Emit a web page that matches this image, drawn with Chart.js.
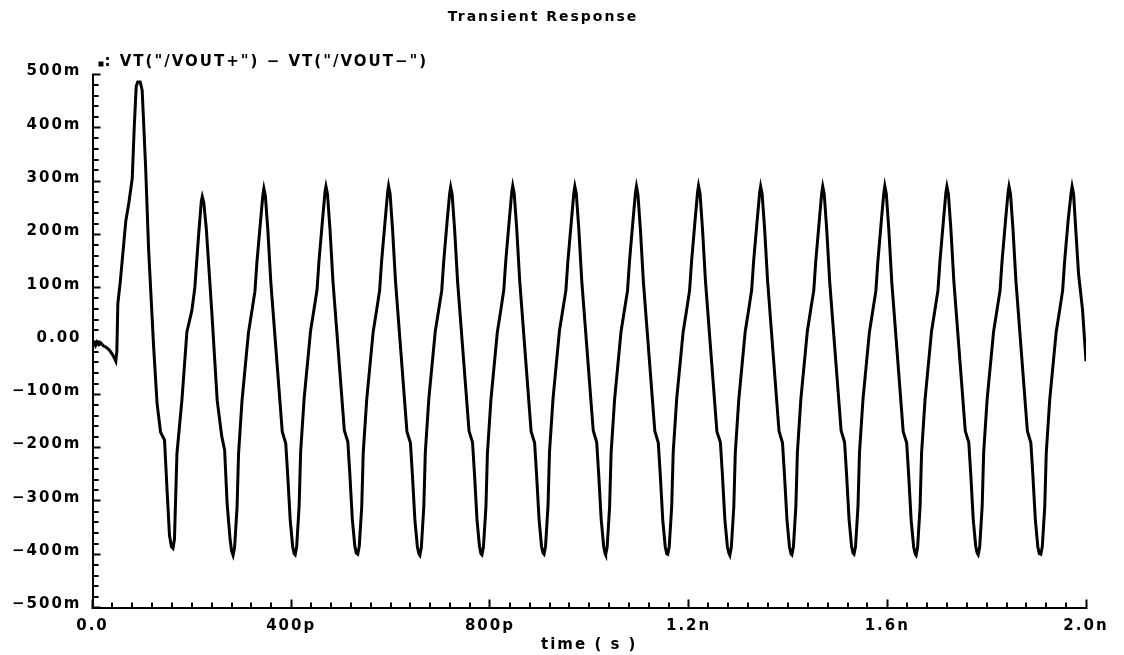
<!DOCTYPE html>
<html>
<head>
<meta charset="utf-8">
<title>Transient Response</title>
<script src="https://cdn.jsdelivr.net/npm/chart.js@4.4.0/dist/chart.umd.min.js"></script>
<style>
    html, body { margin: 0; padding: 0; background: #fff; }
    canvas { display: block; }
</style>
</head>
<body>
<canvas id="transient-chart" width="1124" height="655"></canvas>
<script>
// Differential output VT("/VOUT+") - VT("/VOUT-"), time in ps, voltage in mV
const timePs = [
    // start-up and first overshoot
    0, 3, 6, 9, 13, 17, 22, 28, 34, 40, 45, 47, 49, 51, 56, 67, 73, 80, 84, 88, 91, 96, 100, 107, 113,
    123, 130, 137, 145, 150, 155, 159, 162, 165, 170, 180, 190, 200, 206, 213, 219, 221, 224, 229, 240,
    251, 260, 266, 271, 277, 280,
    // steady oscillation
    283, 286, 291, 294, 301, 314, 321, 327, 331, 338, 343, 345, 348, 353, 359, 382, 389, 393, 398, 403, 406,
    408, 411, 416, 419, 426, 439, 446, 452, 456, 463, 468, 470, 473, 478, 484, 507, 514, 518, 523, 528, 531,
    534, 537, 542, 545, 552, 565, 572, 578, 582, 589, 594, 596, 599, 604, 610, 633, 640, 644, 649, 654, 657,
    659, 662, 667, 670, 677, 690, 697, 703, 707, 714, 719, 721, 724, 729, 735, 758, 765, 769, 774, 779, 782,
    784, 787, 792, 795, 802, 815, 822, 828, 832, 839, 844, 846, 849, 854, 860, 883, 890, 894, 899, 904, 907,
    909, 912, 917, 920, 927, 940, 947, 953, 957, 964, 969, 971, 974, 979, 985, 1008, 1015, 1019, 1024, 1029, 1032,
    1033, 1036, 1041, 1044, 1051, 1064, 1071, 1077, 1081, 1088, 1093, 1095, 1098, 1103, 1109, 1132, 1139, 1143, 1148, 1153, 1156,
    1158, 1161, 1166, 1169, 1176, 1189, 1196, 1202, 1206, 1213, 1218, 1220, 1223, 1228, 1234, 1257, 1264, 1268, 1273, 1278, 1281,
    1283, 1286, 1291, 1294, 1301, 1314, 1321, 1327, 1331, 1338, 1343, 1345, 1348, 1353, 1359, 1382, 1389, 1393, 1398, 1403, 1406,
    1408, 1411, 1416, 1419, 1426, 1439, 1446, 1452, 1456, 1463, 1468, 1470, 1473, 1478, 1484, 1507, 1514, 1518, 1523, 1528, 1531,
    1533, 1536, 1541, 1544, 1551, 1564, 1571, 1577, 1581, 1588, 1593, 1595, 1598, 1603, 1609, 1632, 1639, 1643, 1648, 1653, 1656,
    1658, 1661, 1666, 1669, 1676, 1689, 1696, 1702, 1706, 1713, 1718, 1720, 1723, 1728, 1734, 1757, 1764, 1768, 1773, 1778, 1781,
    1783, 1786, 1791, 1794, 1801, 1814, 1821, 1827, 1831, 1838, 1843, 1845, 1848, 1853, 1859, 1882, 1889, 1893, 1898, 1903, 1906,
    1909, 1912, 1917, 1920, 1927, 1940, 1947, 1953, 1957, 1964, 1970, 1972, 1975, 1980, 1985, 1993, 2000
];

const voutDiffMv = [
    0, -4, -9, -2, -7, -4, -9, -12, -17, -25, -34, -38, -20, 70, 112, 225, 258, 305, 400, 478, 486, 486, 470, 325, 171,
    -10, -117, -171, -186, -278, -365, -386, -389, -372, -211, -111, 17, 57, 100, 191, 262, 271, 260, 212, 57,
    -111, -178, -205, -305, -372, -394,
    -402, -388, -312, -212, -112, 16, 57, 93, 148, 222, 274, 286, 272, 208, 110, -170, -192, -252, -336, -386, -399,
    -401, -386, -309, -208, -108, 19, 60, 96, 151, 227, 279, 290, 276, 211, 113, -168, -189, -249, -334, -384, -398,
    -400, -385, -311, -210, -110, 17, 58, 95, 150, 225, 278, 291, 277, 210, 112, -170, -191, -251, -336, -386, -399,
    -402, -387, -310, -209, -109, 18, 59, 94, 149, 226, 277, 289, 275, 209, 111, -169, -190, -250, -335, -385, -399,
    -401, -386, -312, -211, -111, 17, 58, 96, 151, 227, 279, 291, 276, 211, 113, -170, -191, -251, -335, -386, -398,
    -400, -385, -309, -208, -109, 19, 60, 95, 150, 225, 278, 290, 276, 210, 112, -168, -190, -250, -334, -385, -399,
    -401, -387, -311, -210, -110, 18, 59, 94, 149, 226, 278, 290, 275, 209, 111, -169, -191, -251, -336, -386, -399,
    -400, -386, -310, -209, -109, 17, 58, 95, 150, 226, 279, 291, 277, 210, 112, -170, -190, -250, -335, -385, -398,
    -402, -387, -311, -210, -110, 18, 59, 96, 151, 226, 278, 290, 276, 211, 113, -169, -191, -251, -335, -386, -399,
    -401, -386, -309, -209, -109, 18, 60, 95, 150, 225, 278, 290, 276, 210, 112, -168, -190, -250, -334, -385, -398,
    -400, -386, -310, -210, -110, 17, 58, 94, 149, 226, 278, 291, 276, 210, 111, -170, -191, -251, -336, -386, -399,
    -402, -387, -311, -210, -110, 18, 59, 95, 150, 226, 279, 290, 276, 210, 112, -169, -190, -250, -335, -385, -398,
    -401, -386, -310, -209, -109, 18, 59, 95, 150, 226, 278, 290, 276, 210, 112, -169, -191, -251, -335, -386, -399,
    -400, -386, -310, -210, -110, 17, 58, 95, 150, 226, 278, 290, 276, 200, 126, 59, -38
];

// axis ticks (major labelled, minor unlabelled)
const xTickValues = [0, 400, 800, 1200, 1600, 2000];
const xTickLabels = ['0.0', '400p', '800p', '1.2n', '1.6n', '2.0n'];
const yTickValues = [-500, -400, -300, -200, -100, 0, 100, 200, 300, 400, 500];
const yTickLabels = ['\u2212500m', '\u2212400m', '\u2212300m', '\u2212200m', '\u2212100m', '0.00',
    '100m', '200m', '300m', '400m', '500m'];
const xMinorStep = 40;
const yMinorStep = 20;

const chartTitle = 'Transient Response';
const traceName = ': VT("/VOUT+") \u2212 VT("/VOUT\u2212")';
const xAxisTitle = 'time ( s )';

document.addEventListener('DOMContentLoaded', function () {
    const canvas = document.getElementById('transient-chart');

    Chart.defaults.font.family = '"DejaVu Sans", sans-serif';
    Chart.defaults.color = '#000';

    const tickFont = { family: '"DejaVu Sans", sans-serif', size: 15, weight: 'bold' };
    const titleFont = { family: '"DejaVu Sans", sans-serif', size: 14, weight: 'bold' };
    const axisTitleFont = { family: '"DejaVu Sans", sans-serif', size: 15, weight: 'bold' };

    // the plotter font is wide, spread the letters a bit
    const spacing = {
        id: 'spacing',
        beforeLayout(chart) { chart.ctx.letterSpacing = '2px'; },
        beforeDraw(chart) { chart.ctx.letterSpacing = '2px'; }
    };

    // short inside ticks between the labelled ones
    const minorTicks = {
        id: 'minorTicks',
        afterDatasetsDraw(chart) {
            const { ctx, chartArea, scales: { x, y } } = chart;
            ctx.save();
            ctx.strokeStyle = '#000';
            ctx.lineWidth = 2;
            ctx.beginPath();
            for (let t = x.min; t <= x.max; t += xMinorStep) {
                if (xTickValues.includes(t)) continue;
                const px = Math.round(x.getPixelForValue(t));
                ctx.moveTo(px, chartArea.bottom);
                ctx.lineTo(px, chartArea.bottom - 5);
            }
            for (let v = y.min; v <= y.max; v += yMinorStep) {
                if (yTickValues.includes(v)) continue;
                const py = Math.round(y.getPixelForValue(v));
                ctx.moveTo(chartArea.left, py);
                ctx.lineTo(chartArea.left + 6, py);
            }
            ctx.stroke();
            ctx.restore();
        }
    };

    // trace name sitting on top of the y axis
    const traceLegend = {
        id: 'traceLegend',
        afterDraw(chart) {
            const { ctx, chartArea } = chart;
            ctx.save();
            ctx.fillStyle = '#000';
            ctx.fillRect(chartArea.left + 6, chartArea.top - 13, 5, 5);
            ctx.font = 'bold 15px "DejaVu Sans", sans-serif';
            ctx.textAlign = 'left';
            ctx.textBaseline = 'middle';
            ctx.fillText(traceName, chartArea.left + 12, chartArea.top - 12);
            ctx.restore();
        }
    };

    new Chart(canvas.getContext('2d'), {
        type: 'line',
        data: {
            datasets: [{
                label: traceName,
                data: timePs.map((t, i) => ({ x: t, y: voutDiffMv[i] })),
                borderColor: '#000',
                borderWidth: 3,
                pointRadius: 0,
                tension: 0,
                fill: false
            }]
        },
        options: {
            responsive: false,
            animation: false,
            layout: { padding: { left: 0, right: 38, top: 0, bottom: 0 } },
            plugins: {
                legend: { display: false },
                tooltip: { enabled: false },
                title: {
                    display: true,
                    text: chartTitle,
                    color: '#000',
                    font: titleFont,
                    padding: { top: 8.6, bottom: 49.1 }
                }
            },
            scales: {
                x: {
                    type: 'linear',
                    min: 0,
                    max: 2000,
                    afterBuildTicks: scale => {
                        scale.ticks = xTickValues.map(v => ({ value: v }));
                    },
                    ticks: {
                        autoSkip: false,
                        maxRotation: 0,
                        font: tickFont,
                        color: '#000',
                        padding: 18,
                        callback: v => xTickLabels[xTickValues.indexOf(v)]
                    },
                    grid: {
                        drawOnChartArea: false,
                        drawTicks: true,
                        tickLength: -8,
                        tickWidth: 2,
                        tickColor: '#000'
                    },
                    border: { display: true, color: '#000', width: 2 },
                    title: {
                        display: true,
                        text: xAxisTitle,
                        color: '#000',
                        font: axisTitleFont,
                        padding: { top: 0, bottom: 1 }
                    },
                    afterFit: scale => {
                        scale.height = 47.5;
                        scale.paddingLeft = 0;
                        scale.paddingRight = 0;
                    }
                },
                y: {
                    type: 'linear',
                    min: -500,
                    max: 500,
                    afterBuildTicks: scale => {
                        scale.ticks = yTickValues.map(v => ({ value: v }));
                    },
                    ticks: {
                        autoSkip: false,
                        font: tickFont,
                        color: '#000',
                        padding: 19,
                        labelOffset: -3,
                        callback: v => yTickLabels[yTickValues.indexOf(v)]
                    },
                    grid: {
                        drawOnChartArea: false,
                        drawTicks: true,
                        tickLength: -8,
                        tickWidth: 2,
                        tickColor: '#000'
                    },
                    border: { display: true, color: '#000', width: 2 },
                    afterFit: scale => {
                        scale.width = 92.5;
                        scale.paddingTop = 0;
                        scale.paddingBottom = 0;
                    }
                }
            }
        },
        plugins: [spacing, minorTicks, traceLegend]
    });
});
</script>
</body>
</html>
